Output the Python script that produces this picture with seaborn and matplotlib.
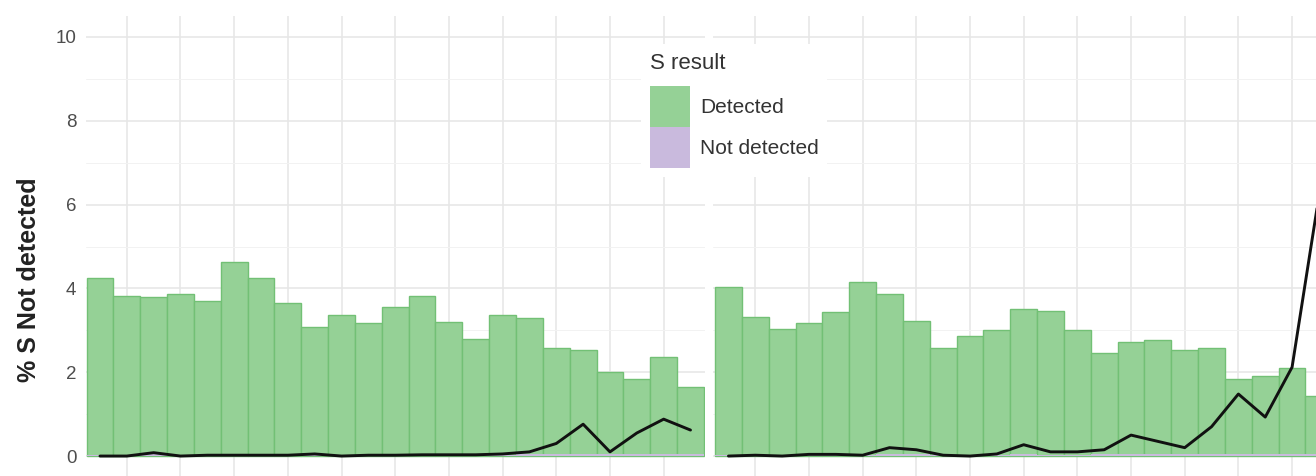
import matplotlib
matplotlib.use("Agg")
import matplotlib.pyplot as plt
from matplotlib.patches import Patch
import pandas as pd
import seaborn as sns

# weekly values, one list per facet
weeks = list(range(1, 24))
detected_left = [4.25, 3.82, 3.80, 3.87, 3.70, 4.63, 4.25, 3.65, 3.08, 3.37, 3.18, 3.56,
                 3.82, 3.20, 2.79, 3.37, 3.30, 2.58, 2.53, 2.00, 1.84, 2.37, 1.65]
not_detected_left = [0.03, 0.03, 0.04, 0.03, 0.03, 0.03, 0.03, 0.03, 0.03, 0.03, 0.03, 0.03,
                     0.03, 0.03, 0.03, 0.03, 0.04, 0.04, 0.05, 0.04, 0.04, 0.05, 0.04]
pct_left = [0.00, 0.00, 0.08, 0.00, 0.02, 0.02, 0.02, 0.02, 0.05, 0.00, 0.02, 0.02,
            0.03, 0.03, 0.03, 0.05, 0.10, 0.30, 0.76, 0.10, 0.55, 0.88, 0.62]

detected_right = [4.03, 3.32, 3.03, 3.17, 3.43, 4.15, 3.86, 3.22, 2.58, 2.86, 3.00, 3.50,
                  3.47, 3.00, 2.47, 2.73, 2.78, 2.53, 2.57, 1.85, 1.92, 2.10, 1.43]
not_detected_right = [0.03, 0.03, 0.03, 0.03, 0.03, 0.03, 0.04, 0.04, 0.03, 0.03, 0.03, 0.04,
                      0.03, 0.03, 0.04, 0.04, 0.04, 0.04, 0.05, 0.05, 0.05, 0.06, 0.06]
pct_right = [0.00, 0.02, 0.00, 0.04, 0.04, 0.02, 0.20, 0.15, 0.02, 0.00, 0.05, 0.27,
             0.10, 0.10, 0.15, 0.50, 0.35, 0.20, 0.70, 1.48, 0.93, 2.12, 6.20]

result_labels = ["Detected", "Not detected"]
GREEN = "#95d196"
GREEN_EDGE = "#72c075"
PURPLE = "#c9badd"

sns.set_theme(style="whitegrid")
plt.rcParams["font.family"] = ["Liberation Sans", "DejaVu Sans"]

W, H = 1316, 476
fig = plt.figure(figsize=(W / 100, H / 100), dpi=100)


def add_panel(left, top, width, bottom):
    return fig.add_axes([left / W, 1 - bottom / H, width / W, (bottom - top) / H])


ax_l = add_panel(86, 16, 619, 477)
ax_r = add_panel(713, 16, 620, 477)

panels = [
    (ax_l, detected_left, not_detected_left, pct_left, (0.48, 23.54)),
    (ax_r, detected_right, not_detected_right, pct_right, (0.425, 23.525)),
]

for ax, det, nd, pct, xlim in panels:
    df = pd.DataFrame({"week": weeks, "detected": det, "not_detected": nd, "pct": pct})
    sns.barplot(data=df, x="week", y="detected", native_scale=True, width=1,
                color=GREEN, saturation=1, edgecolor=GREEN_EDGE, linewidth=1.0,
                errorbar=None, ax=ax)
    sns.barplot(data=df, x="week", y="not_detected", native_scale=True, width=1,
                color=PURPLE, saturation=1, linewidth=0, errorbar=None, ax=ax)
    sns.lineplot(data=df, x="week", y="pct", color="#111111", linewidth=2.1, ax=ax)

    ax.set_xlim(*xlim)
    ax.set_ylim(-0.5, 10.5)
    ax.set_xticks(weeks[1::2])
    ax.set_yticks([0, 2, 4, 6, 8, 10])
    ax.set_yticks([1, 3, 5, 7, 9], minor=True)
    ax.set_axisbelow(True)
    ax.grid(True, which="major", color="#e6e6e6", linewidth=1.1)
    ax.grid(True, which="minor", axis="y", color="#f2f2f2", linewidth=0.7)
    ax.tick_params(length=0, which="both")
    ax.set_xticklabels([])
    ax.set_xlabel("")
    ax.set_ylabel("")
    for s in ax.spines.values():
        s.set_visible(False)

ax_l.tick_params(axis="y", labelsize=13.5, labelcolor="#4d4d4d", pad=7)
ax_r.set_yticklabels([])
ax_l.set_ylabel("% S Not detected", fontsize=18, fontweight="bold", color="#222222")
ax_l.yaxis.set_label_coords(-0.072, 0.427)

handles = [Patch(facecolor=GREEN, edgecolor="none"), Patch(facecolor=PURPLE, edgecolor="none")]
leg = fig.legend(handles, result_labels, title="S result", loc="upper left",
                 bbox_to_anchor=(631 / W, 1 - 34 / H), frameon=True, facecolor="white",
                 edgecolor="none", framealpha=1, fontsize=15, title_fontsize=16,
                 handlelength=1.92, handleheight=2.65, labelspacing=0, handletextpad=0.48,
                 borderpad=0.4, alignment="left", fancybox=False)
for t in leg.get_texts():
    t.set_color("#333333")
leg.get_title().set_color("#333333")
leg._legend_box.sep = 9

fig.savefig("out.png", dpi=100)
